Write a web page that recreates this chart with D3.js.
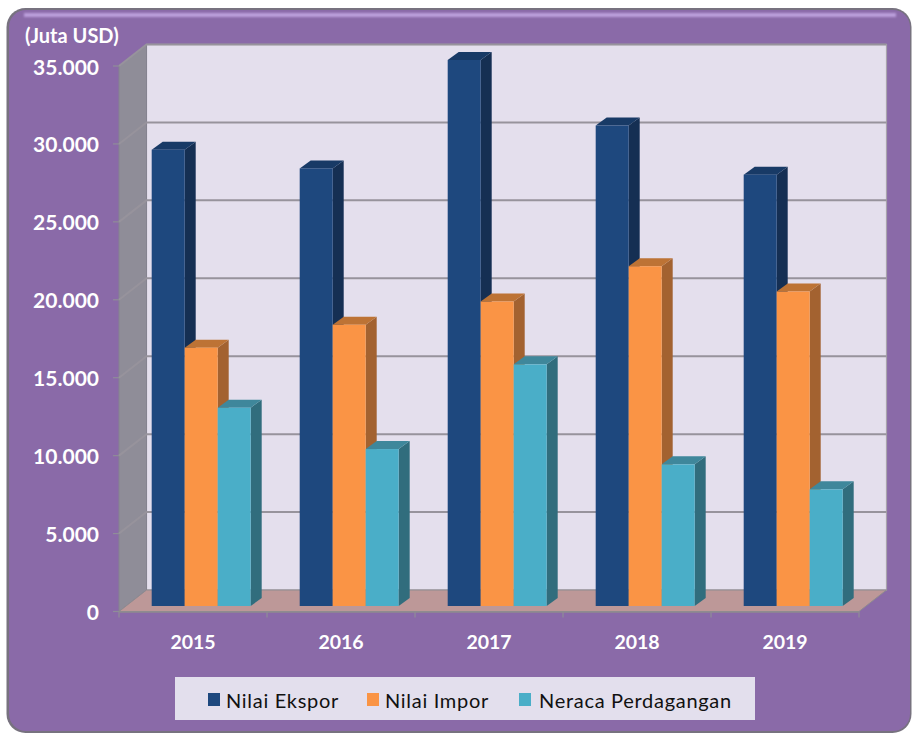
<!DOCTYPE html>
<html><head><meta charset="utf-8">
<script src="https://cdn.jsdelivr.net/npm/d3@7"></script>
<style>html,body{margin:0;padding:0;background:#fff}svg{display:block}text{font-family:Lato,"Open Sans",sans-serif}</style>
</head><body><div id="c"></div>
<script>
const years=["2015","2016","2017","2018","2019"];
const seriesNames=["Nilai Ekspor","Nilai Impor","Neraca Perdagangan"];
const ekspor=[29250,28050,35000,30800,27650];
const impor=[16560,18030,19520,21780,20160];
const neraca=[12710,10060,15490,9080,7480];
const yTicks=[0,5000,10000,15000,20000,25000,30000,35000];
const tickLabels=["0","5.000","10.000","15.000","20.000","25.000","30.000","35.000"];
const front=["#1e487e","#fa9445","#4aaec8"];
const side=["#152f53","#a36230","#316d7d"];
const topc=["#183a66","#bd7335","#3f879b"];

const W=913,H=734;
const svg=d3.select("#c").append("svg").attr("width",W).attr("height",H);
const defs=svg.append("defs");
const hl=defs.append("filter").attr("id","blur").attr("x","-5%").attr("y","-100%").attr("width","110%").attr("height","300%");
hl.append("feGaussianBlur").attr("stdDeviation",1);

// panel
svg.append("rect").attr("x",6.5).attr("y",8).attr("width",905).attr("height",725).attr("rx",19).attr("fill","#77727f");
svg.append("rect").attr("x",9).attr("y",10).attr("width",901).attr("height",721).attr("rx",17).attr("fill","#8a6aa8");
svg.append("rect").attr("x",24).attr("y",13).attr("width",872).attr("height",4).attr("fill","#bb9fdc").attr("filter","url(#blur)");

// plot geometry
const y=d3.scaleLinear().domain([0,35000]).range([611.5,66]);
const x0=d3.scaleBand().domain(years).range([119,859]);
const dx=27.5,dy=-21.5;
const g=svg.append("g");
// back wall
g.append("rect").attr("x",119+dx).attr("y",y(35000)+dy).attr("width",740).attr("height",y(0)-y(35000)).attr("fill","#e4dfed").attr("stroke","#a8a3ad").attr("stroke-width",1.2);
// side wall
g.append("path").attr("d",`M119 ${y(0)}V${y(35000)}L${119+dx} ${y(35000)+dy}V${y(0)+dy}Z`).attr("fill","#8f8d98").attr("stroke","#858390").attr("stroke-width",1);
// floor
g.append("path").attr("d",`M119 ${y(0)}L${119+dx} ${y(0)+dy}H${859+dx}L859 ${y(0)}Z`).attr("fill","#bd9898").attr("stroke","#8e8b8f").attr("stroke-width",1);
// gridlines
yTicks.filter(t=>t>0).forEach(t=>{
  g.append("path").attr("d",`M119 ${y(t)}L${119+dx} ${y(t)+dy}H${859+dx}`).attr("fill","none").attr("stroke","#97939c").attr("stroke-width",2);
});
// axis ticks
yTicks.forEach((t,i)=>{
  g.append("line").attr("x1",113).attr("x2",119).attr("y1",y(t)).attr("y2",y(t)).attr("stroke","#8f8d98").attr("stroke-width",1.2);
  g.append("text").attr("x",99).attr("y",y(t)+8.5).attr("text-anchor","end").attr("font-size",21).attr("font-weight",700).attr("fill","#fff").text(tickLabels[i]);
});
d3.range(6).forEach(i=>{
  const px=119+148*i;
  g.append("line").attr("x1",px).attr("x2",px).attr("y1",y(0)).attr("y2",y(0)+6).attr("stroke","#8f8d98").attr("stroke-width",1.2);
});
g.append("line").attr("x1",119).attr("x2",859).attr("y1",y(0)+.5).attr("y2",y(0)+.5).attr("stroke","#8e8b8f").attr("stroke-width",1.6);
years.forEach(yr=>{
  g.append("text").attr("x",x0(yr)+x0.bandwidth()/2).attr("y",649).attr("text-anchor","middle").attr("font-size",19.5).attr("font-weight",700).attr("fill","#fff").text(yr);
});
svg.append("text").attr("x",25).attr("y",43).attr("font-size",20).attr("font-weight",700).attr("fill","#fff").text("(Juta USD)");

// bars
const yb=d3.scaleLinear().domain([0,35000]).range([606,60]);
const bw=33,bdx=11,bdy=-8,barOff=32.7;
const values=[ekspor,impor,neraca];
years.forEach((yr,i)=>{
  values.forEach((vals,s)=>{
    const l=x0(yr)+barOff+s*bw, r=l+bw, t=yb(vals[i]), b=yb(0);
    g.append("path").attr("d",`M${r} ${t}L${r+bdx} ${t+bdy}V${b+bdy}L${r} ${b}Z`).attr("fill",side[s]);
    g.append("path").attr("d",`M${l} ${t}L${l+bdx} ${t+bdy}H${r+bdx}L${r} ${t}Z`).attr("fill",topc[s]);
  });
  values.forEach((vals,s)=>{
    const l=x0(yr)+barOff+s*bw, t=yb(vals[i]), b=yb(0);
    g.append("rect").attr("x",l).attr("y",t).attr("width",bw).attr("height",b-t).attr("fill",front[s]);
  });
});

// legend
svg.append("rect").attr("x",175).attr("y",677).attr("width",580).attr("height",43).attr("fill","#e3dfed");
const legX=[208,367,519], legT=[226,385,539];
seriesNames.forEach((n,s)=>{
  svg.append("rect").attr("x",legX[s]).attr("y",693).attr("width",12).attr("height",13).attr("fill",front[s]);
  svg.append("text").attr("x",legT[s]).attr("y",708).attr("font-size",20).attr("letter-spacing",0.7).attr("fill","#111").text(n);
});
</script></body></html>
